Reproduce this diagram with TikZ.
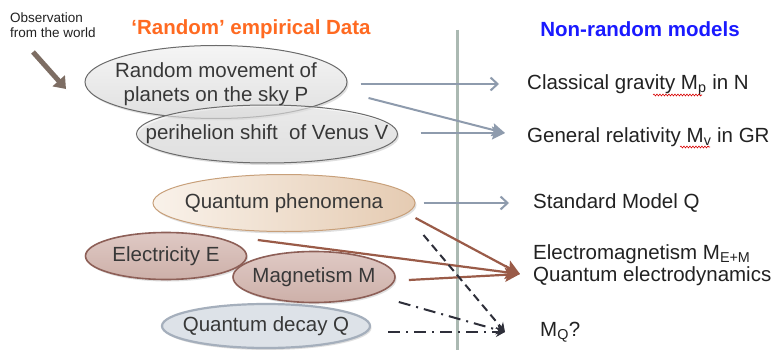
\documentclass[tikz,border=0pt]{standalone}
\usepackage{fontspec}
\setmainfont{Liberation Sans}
\usetikzlibrary{shapes.geometric,arrows.meta,shadows,calc,decorations.pathmorphing}
\definecolor{txt}{HTML}{222222}
\definecolor{greyarr}{HTML}{8E9BAD}
\definecolor{brownarr}{HTML}{9A5B48}
\definecolor{darkarr}{HTML}{2E2F3A}
\definecolor{vline}{HTML}{ABB9B2}
\definecolor{obsarr}{HTML}{7D6D63}
\definecolor{ttlorange}{HTML}{FF6A21}
\definecolor{ttlblue}{HTML}{1A1AFF}
\definecolor{HTMLc8a07a}{HTML}{C8A07A}
\definecolor{HTMLf9f2ea}{HTML}{F9F2EA}
\definecolor{HTMLe5cbb2}{HTML}{E5CBB2}
\definecolor{HTML8d5f57}{HTML}{8D5F57}
\definecolor{HTMLdfc9c4}{HTML}{DFC9C4}
\definecolor{HTMLcdb0a9}{HTML}{CDB0A9}
\definecolor{HTMLa5afbc}{HTML}{A5AFBC}
\definecolor{HTMLdde2e8}{HTML}{DDE2E8}
\tikzset{
  big/.style={font=\fontsize{20.5}{24.5}\selectfont, text=txt},
  ell/.style={ellipse, inner sep=0pt,
    drop shadow={opacity=0.25, shadow xshift=1.5pt, shadow yshift=-2pt}},
  etext/.style={big, align=center, inner sep=0pt, text=txt!90},
  greyell/.style={ell, draw=black!58, line width=1pt, top color=black!4, bottom color=black!12},
  beigeell/.style={ell, draw=HTMLc8a07a, line width=1pt, left color=HTMLf9f2ea, right color=HTMLe5cbb2},
  rosyell/.style={ell, draw=HTML8d5f57, line width=1.6pt, top color=HTMLdfc9c4, bottom color=HTMLcdb0a9},
  blueell/.style={ell, draw=HTMLa5afbc, line width=2.2pt, fill=HTMLdde2e8},
  garrow/.style={draw=greyarr, line width=2pt},
  barrow/.style={draw=brownarr, line width=2.2pt, -{Stealth[length=15pt,width=14pt,inset=3pt]}},
  lbl/.style={big, anchor=west, inner sep=0pt, align=left},
}
\begin{document}
\begin{tikzpicture}[x=1pt,y=-1pt]
\useasboundingbox[fill=white] (0,0) rectangle (775,350);

% vertical divider
\coordinate (vtop) at (457,30);
\coordinate (vbot) at (457,350);
\draw[vline, line width=3pt] (vtop) -- (vbot);

% titles
\node[font=\fontsize{20.5}{24}\selectfont\bfseries, text=ttlorange] (t1) at (251,29) {‘Random’ empirical Data};
\node[font=\fontsize{20.5}{24}\selectfont\bfseries, text=ttlblue] (t2) at (640,29) {Non-random models};

% observation
\node[font=\fontsize{13.5}{15.5}\selectfont, align=left, anchor=west, text=txt, inner sep=0pt] (obs) at (10,25) {Observation\\from the world};
\coordinate (oa) at (33,52);
\coordinate (ob) at (66,89);
\draw[obsarr, line width=5pt, -{Triangle[length=11pt,width=16pt]},
  drop shadow={opacity=0.2, shadow xshift=1pt, shadow yshift=-1.5pt}] (oa) -- (ob);

% ellipses
\node[greyell, minimum width=262pt, minimum height=73pt] (E1) at (216,82) {};
\node[greyell, minimum width=261pt, minimum height=58pt, fill opacity=0.55] (E2) at (267,134) {};
\node[etext] (E1t) at (216,84) {Random movement of\\[0pt]planets on the sky P};
\node[etext] (E2t) at (267,134) {perihelion shift\ \ of Venus V};
\node[beigeell, minimum width=262pt, minimum height=57pt] (QP) at (284,203) {};
\node[etext] (QPt) at (284,203) {Quantum phenomena};
\node[rosyell, minimum width=161pt, minimum height=47pt] (EL) at (166,256) {};
\node[etext] (ELt) at (166,256) {Electricity E};
\node[rosyell, minimum width=162pt, minimum height=51pt] (MG) at (314,277) {};
\node[etext] (MGt) at (314,277) {Magnetism M};
\node[blueell, minimum width=208pt, minimum height=44pt] (QD) at (266,326) {};
\node[etext] (QDt) at (266,326) {Quantum decay Q};

% right labels
\node[lbl] (CG) at (527,85) {Classical gravity M\textsubscript{p} in N};
\node[lbl] (GR) at (527,137) {General relativity M\textsubscript{v} in GR};
\node[lbl] (SM) at (533,203) {Standard Model Q};
\node[lbl] (EM) at (533,265) {Electromagnetism M\textsubscript{E+M}\\[-3pt]Quantum electrodynamics};
\node[lbl] (MQ) at (540,332) {M\textsubscript{Q}?};

% spell-check squiggles
\draw[red!85!black, line width=0.6pt, decorate, decoration={snake, amplitude=0.9pt, segment length=3pt}] (653,95) -- (702,95);
\draw[red!85!black, line width=0.6pt, decorate, decoration={snake, amplitude=0.9pt, segment length=3pt}] (680,147) -- (710,147);

% target coordinates
\coordinate (tCG) at (499,84);
\coordinate (tGR) at (505,133);
\coordinate (tSM) at (509,203);
\coordinate (tEM) at (520,274);
\coordinate (tMQ) at (505,332);

% grey arrows
\draw[garrow, -{Straight Barb[length=7pt,width=13pt,line width=2pt]}] ($(E1.east)+(13,2)$) -- (tCG);
\draw[garrow, -{Stealth[length=13pt,width=13pt,inset=2pt]}] ($(E1.east)+(21,16)$) -- (tGR);
\draw[garrow, -{Stealth[length=13pt,width=13pt,inset=2pt]}] ($(E2.east)+(22.5,-1)$) -- (tGR);
\draw[garrow, -{Straight Barb[length=7pt,width=13pt,line width=2pt]}] ($(QP.east)+(8,0)$) -- (tSM);

% brown arrows
\draw[barrow] ($(QP.east)+(0,15)$) -- (tEM);
\draw[barrow] ($(EL.east)+(10.5,-16)$) -- (tEM);
\draw[barrow] ($(MG.east)+(13,3)$) -- (tEM);

% dark dashed arrows
\draw[draw=darkarr, line width=2pt, dash pattern=on 8pt off 5pt, -{Stealth[length=9pt,width=10pt]}] ($(QP.east)+(8,32)$) -- (tMQ);
\draw[draw=darkarr, line width=2pt, dash pattern=on 12pt off 6pt on 2pt off 6pt, -{Stealth[length=9pt,width=10pt]}] ($(MG.east)+(3,25)$) -- (tMQ);
\draw[draw=darkarr, line width=2pt, dash pattern=on 12pt off 6pt on 2pt off 6pt, -{Stealth[length=9pt,width=10pt]}] ($(QD.east)+(17,6)$) -- (tMQ);
\end{tikzpicture}
\end{document}
